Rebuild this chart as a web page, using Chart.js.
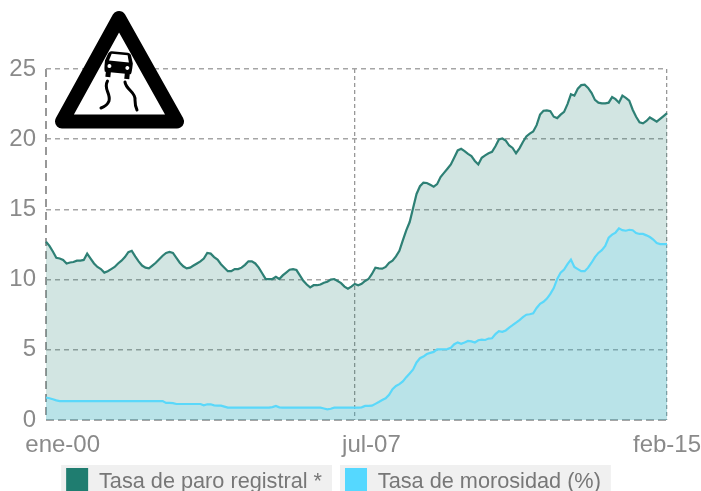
<!DOCTYPE html>
<html>
<head>
<meta charset="utf-8">
<title>Paro y morosidad</title>
<script src="https://cdn.jsdelivr.net/npm/chart.js@4"></script>
<style>
html, body { margin: 0; padding: 0; background: #fff; overflow: hidden; width: 701px; height: 491px; }
canvas { display: block; }
</style>
</head>
<body>
<canvas id="grafico" width="701" height="510"></canvas>
<script>
const mesesNombre = ['ene', 'feb', 'mar', 'abr', 'may', 'jun', 'jul', 'ago', 'sep', 'oct', 'nov', 'dic'];
const meses = [];
for (let i = 0; i < 182; i++) {
    const yy = 2000 + Math.floor(i / 12);
    meses.push(mesesNombre[i % 12] + '-' + String(yy).slice(2));
}

// etiquetas del eje x: indice del mes y texto
const ticksX = [0, 90, 181];
const ticksXTexto = ['     ene-00', '     jul-07', 'feb-15'];
const ticksY = [0, 5, 10, 15, 20, 25];

const tasaParo = [
    12.7, 12.4, 12.0, 11.55, 11.5, 11.4, 11.15, 11.22, 11.25, 11.35, 11.35, 11.4,
    11.85, 11.5, 11.15, 10.9, 10.75, 10.5, 10.6, 10.75, 10.9, 11.15, 11.35, 11.6,
    11.95, 12.05, 11.65, 11.3, 11.0, 10.85, 10.8, 11.0, 11.2, 11.45, 11.7, 11.9,
    11.97, 11.9, 11.55, 11.2, 10.95, 10.8, 10.85, 11.0, 11.15, 11.3, 11.5, 11.9,
    11.85, 11.6, 11.42, 11.1, 10.85, 10.6, 10.6, 10.75, 10.75, 10.85, 11.05, 11.3,
    11.3, 11.15, 10.85, 10.45, 10.05, 10.03, 10.04, 10.2, 10.04, 10.3, 10.5, 10.7,
    10.75, 10.68, 10.3, 9.92, 9.65, 9.45, 9.6, 9.6, 9.65, 9.78, 9.85, 10.0,
    10.04, 9.9, 9.75, 9.5, 9.35, 9.5, 9.69, 9.6, 9.7, 9.9, 10.04, 10.4,
    10.85, 10.8, 10.78, 10.9, 11.2, 11.35, 11.65, 12.05, 12.8, 13.5, 14.1, 15.1,
    16.1, 16.65, 16.9, 16.88, 16.75, 16.62, 16.8, 17.3, 17.6, 17.9, 18.2, 18.7,
    19.2, 19.32, 19.15, 18.95, 18.8, 18.45, 18.2, 18.68, 18.85, 19.0, 19.1, 19.5,
    19.98, 20.05, 19.9, 19.55, 19.38, 19.0, 19.35, 19.8, 20.2, 20.4, 20.55, 21.0,
    21.75, 22.03, 22.05, 22.0, 21.6, 21.5, 21.75, 21.95, 22.5, 23.2, 23.1, 23.6,
    23.85, 23.88, 23.65, 23.3, 22.8, 22.6, 22.55, 22.55, 22.6, 23.0, 22.85, 22.6,
    23.1, 22.95, 22.75, 22.1, 21.6, 21.2, 21.13, 21.3, 21.55, 21.4, 21.25, 21.45,
    21.65, 21.85
];

const tasaMorosidad = [
    1.6, 1.55, 1.48, 1.4, 1.35, 1.35, 1.35, 1.35, 1.35, 1.35, 1.35, 1.35,
    1.35, 1.35, 1.35, 1.35, 1.35, 1.35, 1.35, 1.35, 1.35, 1.35, 1.35, 1.35,
    1.35, 1.35, 1.35, 1.35, 1.35, 1.35, 1.35, 1.35, 1.35, 1.35, 1.35, 1.22,
    1.22, 1.2, 1.14, 1.14, 1.14, 1.14, 1.14, 1.14, 1.14, 1.14, 1.05, 1.12,
    1.12, 1.04, 1.03, 1.02, 0.95, 0.88, 0.88, 0.88, 0.88, 0.88, 0.88, 0.88,
    0.88, 0.88, 0.88, 0.88, 0.88, 0.88, 0.92, 1.0, 0.9, 0.88, 0.88, 0.88,
    0.88, 0.88, 0.88, 0.88, 0.88, 0.88, 0.88, 0.88, 0.88, 0.82, 0.76, 0.8,
    0.88, 0.88, 0.88, 0.88, 0.88, 0.88, 0.88, 0.88, 0.9, 1.0, 1.0, 1.02,
    1.15, 1.28, 1.42, 1.55, 1.8, 2.2, 2.42, 2.55, 2.75, 3.05, 3.32, 3.6,
    4.1, 4.4, 4.52, 4.7, 4.78, 4.85, 5.03, 5.03, 5.04, 5.05, 5.15, 5.4,
    5.53, 5.43, 5.52, 5.63, 5.6, 5.52, 5.68, 5.72, 5.7, 5.8, 5.82, 6.12,
    6.32, 6.28, 6.38, 6.58, 6.75, 6.93, 7.12, 7.32, 7.5, 7.53, 7.6, 7.98,
    8.28, 8.42, 8.65, 8.98, 9.4, 10.05, 10.5, 10.72, 11.1, 11.43, 10.9, 10.75,
    10.6, 10.6, 10.85, 11.2, 11.6, 11.9, 12.1, 12.4, 12.98, 13.2, 13.35, 13.65,
    13.52, 13.48, 13.55, 13.52, 13.32, 13.25, 13.25, 13.15, 13.03, 12.85, 12.6, 12.53,
    12.53, 12.53
];

// fondo gris de cada elemento de la leyenda
const fondoLeyenda = {
    id: 'fondoLeyenda',
    afterLayout(chart) {
        // las etiquetas del eje x se recortan al alto de la escala
        chart.scales.x.bottom += 20;
    },
    beforeDraw(chart) {
        const ctx = chart.ctx;
        ctx.save();
        ctx.fillStyle = '#f0f0f0';
        chart.legend.legendHitBoxes.forEach(function (b) {
            ctx.fillRect(b.left - 5, b.top - 3, b.width + 15, b.height + 30);
        });
        ctx.restore();
    }
};

// senal de calzada deslizante
const senal = {
    id: 'senal',
    afterDraw(chart) {
        const ctx = chart.ctx;
        ctx.save();
        ctx.lineJoin = 'round';
        ctx.lineCap = 'round';
        ctx.beginPath();
        ctx.moveTo(119, 18);
        ctx.lineTo(177, 121.5);
        ctx.lineTo(62, 121.5);
        ctx.closePath();
        ctx.fillStyle = '#fff';
        ctx.fill();
        ctx.strokeStyle = '#000';
        ctx.lineWidth = 14;
        ctx.stroke();

        // coche
        ctx.translate(118.5, 66);
        ctx.rotate(0.1);
        ctx.fillStyle = '#000';
        ctx.beginPath();
        ctx.moveTo(-8, -14);
        ctx.lineTo(8, -14);
        ctx.quadraticCurveTo(11, -14, 12, -10);
        ctx.lineTo(14, -4);
        ctx.quadraticCurveTo(14, 6, 13, 7);
        ctx.lineTo(-13, 7);
        ctx.quadraticCurveTo(-14, 6, -14, -4);
        ctx.lineTo(-12, -10);
        ctx.quadraticCurveTo(-11, -14, -8, -14);
        ctx.fill();
        ctx.fillRect(-12, 5, 5, 7);
        ctx.fillRect(7, 5, 5, 7);
        ctx.fillStyle = '#fff';
        ctx.beginPath();
        ctx.moveTo(-8, -11.5);
        ctx.lineTo(8, -11.5);
        ctx.lineTo(10, -4.5);
        ctx.lineTo(-10, -4.5);
        ctx.closePath();
        ctx.fill();
        ctx.beginPath();
        ctx.arc(-9, 1, 2, 0, Math.PI * 2);
        ctx.arc(9, 1, 2, 0, Math.PI * 2);
        ctx.fill();
        ctx.setTransform(1, 0, 0, 1, 0, 0);

        // rodadas
        ctx.lineWidth = 3;
        ctx.strokeStyle = '#000';
        ctx.beginPath();
        ctx.moveTo(107.5, 81);
        ctx.bezierCurveTo(103, 89, 111, 93, 109, 101);
        ctx.quadraticCurveTo(107, 106, 101, 108);
        ctx.moveTo(125, 82);
        ctx.bezierCurveTo(126, 90, 136, 92, 135, 100);
        ctx.quadraticCurveTo(135, 106, 137, 110);
        ctx.stroke();
        ctx.restore();
    }
};

const ctx = document.getElementById('grafico').getContext('2d');
new Chart(ctx, {
    type: 'line',
    data: {
        labels: meses,
        datasets: [{
            label: 'Tasa de paro registral *',
            data: tasaParo,
            borderColor: '#2e8075',
            backgroundColor: 'rgba(31,125,112,0.2)',
            fill: 'origin',
            borderWidth: 2.2,
            pointRadius: 0,
            tension: 0,
            order: 2
        }, {
            label: 'Tasa de morosidad (%)',
            data: tasaMorosidad,
            borderColor: '#5ad8fa',
            backgroundColor: 'rgba(85,216,255,0.2)',
            fill: 'origin',
            borderWidth: 2.2,
            pointRadius: 0,
            tension: 0,
            order: 1
        }]
    },
    options: {
        responsive: false,
        animation: false,
        layout: { padding: { top: 69, right: 34, left: 0, bottom: 4 } },
        plugins: {
            tooltip: { enabled: false },
            legend: {
                position: 'bottom',
                labels: {
                    boxWidth: 22,
                    boxHeight: 28,
                    padding: 23,
                    color: '#777',
                    font: { family: 'Liberation Sans', size: 21.7 },
                    generateLabels: function (chart) {
                        return chart.data.datasets.map(function (d, i) {
                            return {
                                text: d.label,
                                fillStyle: i === 0 ? '#1f7d70' : '#55d8ff',
                                strokeStyle: 'transparent',
                                lineWidth: 0,
                                fontColor: '#777',
                                datasetIndex: i
                            };
                        });
                    }
                }
            }
        },
        scales: {
            x: {
                afterBuildTicks: function (scale) {
                    scale.ticks = ticksX.map(function (v) { return { value: v }; });
                },
                afterFit: function (scale) {
                    scale.height = 25;
                    scale.paddingLeft = 0;
                    scale.paddingRight = 0;
                },
                grid: {
                    color: '#989898',
                    lineWidth: function (c) { return c.index === 0 ? 2 : 1.3; },
                    drawTicks: false
                },
                border: {
                    display: false,
                    dash: function (c) { return c.index === 0 ? [8, 5] : [4, 3]; }
                },
                ticks: {
                    autoSkip: false,
                    maxRotation: 0,
                    padding: 11,
                    color: '#8a8a8a',
                    font: { family: 'Liberation Sans', size: 24 },
                    callback: function (value) {
                        return ticksXTexto[ticksX.indexOf(value)];
                    }
                }
            },
            y: {
                min: 0,
                max: 25,
                afterBuildTicks: function (scale) {
                    scale.ticks = ticksY.map(function (v) { return { value: v }; });
                },
                afterFit: function (scale) { scale.width = 46; },
                grid: {
                    color: '#a5a5a5',
                    lineWidth: function (c) { return c.index === 0 ? 2 : 1.5; },
                    drawTicks: false
                },
                border: {
                    display: false,
                    dash: function (c) { return c.index === 0 ? [8, 4] : [5, 4]; }
                },
                ticks: {
                    padding: 10,
                    color: '#8a8a8a',
                    font: { family: 'Liberation Sans', size: 24 }
                }
            }
        }
    },
    plugins: [fondoLeyenda, senal]
});
</script>
</body>
</html>
